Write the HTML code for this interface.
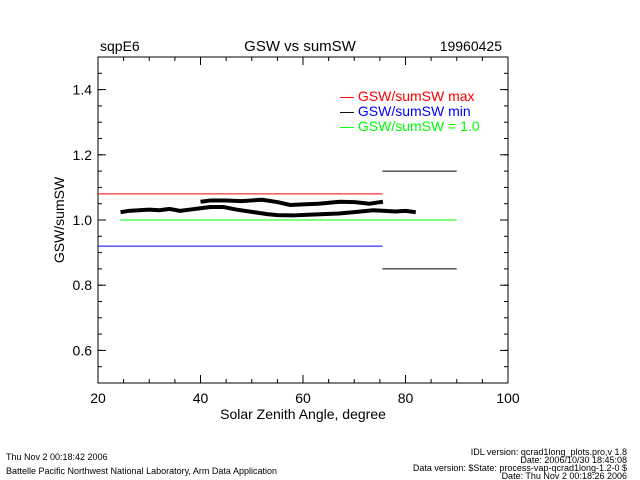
<!DOCTYPE html>
<html><head><meta charset="utf-8"><style>
body{margin:0;background:#fff;}
svg{display:block;font-family:"Liberation Sans",sans-serif;}
</style></head><body>
<svg id="chart" width="640" height="480" viewBox="0 0 640 480">
<rect width="640" height="480" fill="#fff"/>
<text x="100" y="51" font-size="14">sqpE6</text>
<text x="300" y="51" font-size="15" text-anchor="middle">GSW vs sumSW</text>
<text x="502" y="51" font-size="14" text-anchor="end">19960425</text>
<g id="axes"></g>
<g id="refs"></g>
<g id="series"></g>
<text x="340" y="101" font-size="14" fill="#f00">— GSW/sumSW max</text>
<text x="340" y="116" font-size="14" fill="#00f"><tspan fill="#000">— </tspan>GSW/sumSW min</text>
<text x="340" y="131" font-size="14" fill="#0f0">— GSW/sumSW = 1.0</text>
<text x="303" y="419" font-size="14" text-anchor="middle">Solar Zenith Angle, degree</text>
<text transform="translate(64,220) rotate(-90)" font-size="14" text-anchor="middle">GSW/sumSW</text>
<text x="6" y="460" font-size="9">Thu Nov  2 00:18:42 2006</text>
<text x="6" y="474" font-size="9">Battelle Pacific Northwest National Laboratory, Arm Data Application</text>
<g font-size="9" text-anchor="end">
<text x="627" y="455">IDL version: qcrad1long_plots.pro,v 1.8</text>
<text x="627" y="463">Date: 2006/10/30 18:45:08</text>
<text x="627" y="471">Data version: $State: process-vap-qcrad1long-1.2-0 $</text>
<text x="627" y="479">Date: Thu Nov  2 00:18:26 2006</text>
</g>
</svg>
<script>
const xTicks=[20,40,60,80,100];
const yTicks=[0.6,0.8,1.0,1.2,1.4];
const refMax=1.08, refMin=0.92, refOne=1.0, upperBox=1.15, lowerBox=0.85;
const lowerX=[24.4,26,28,30,32,34,36,38,40,42,44.4,47,50,53,55,58,61,64,67,70,73.7,76,78,80,82];
const lowerY=[1.024,1.028,1.03,1.032,1.03,1.034,1.028,1.032,1.036,1.04,1.04,1.032,1.025,1.018,1.015,1.014,1.016,1.018,1.02,1.024,1.03,1.028,1.026,1.028,1.024];
const upperX=[40,42,45,48,50,52,55,57.5,60,63,67.2,70,73,75.6];
const upperY=[1.056,1.06,1.06,1.058,1.06,1.062,1.055,1.046,1.048,1.05,1.056,1.055,1.05,1.056];
const X0=98,X1=508,Y0=383,Y1=57;
const sx=v=>X0+(v-20)/80*(X1-X0);
const sy=v=>Y0-(v-0.5)/1.0*(Y0-Y1);
const NS="http://www.w3.org/2000/svg";
function mk(t,a,p){const e=document.createElementNS(NS,t);for(const k in a)e.setAttribute(k,a[k]);p.appendChild(e);return e;}
const ax=document.getElementById('axes');
const frame=mk('rect',{x:X0,y:Y1,width:X1-X0,height:Y0-Y1,fill:'none',stroke:'#000','stroke-width':1},ax);


xTicks.forEach(v=>{
 const t=mk('text',{x:sx(v),y:Y0+20,'font-size':14,'text-anchor':'middle'},ax);t.textContent=v;
 
 
 mk('line',{x1:sx(v),x2:sx(v),y1:Y0,y2:Y0-8,stroke:'#000'},ax);
 mk('line',{x1:sx(v),x2:sx(v),y1:Y1,y2:Y1+8,stroke:'#000'},ax);
});
for(let v=20;v<=100;v+=5){mk('line',{x1:sx(v),x2:sx(v),y1:Y0,y2:Y0-4,stroke:'#000'},ax);mk('line',{x1:sx(v),x2:sx(v),y1:Y1,y2:Y1+4,stroke:'#000'},ax);}
yTicks.forEach(v=>{
 const t=mk('text',{x:X0-6,y:sy(v)+5,'font-size':14,'text-anchor':'end'},ax);t.textContent=v.toFixed(1);
 
 
 mk('line',{x1:X0,x2:X0+8,y1:sy(v),y2:sy(v),stroke:'#000'},ax);
 mk('line',{x1:X1,x2:X1-8,y1:sy(v),y2:sy(v),stroke:'#000'},ax);
});
for(let v=0.5;v<=1.5;v+=0.05){mk('line',{x1:X0,x2:X0+4,y1:sy(v),y2:sy(v),stroke:'#000'},ax);mk('line',{x1:X1,x2:X1-4,y1:sy(v),y2:sy(v),stroke:'#000'},ax);}
const rf=document.getElementById('refs');
function ref(name,x1,x2,y,c){const l=mk('line',{x1:sx(x1),x2:sx(x2),y1:sy(y),y2:sy(y),stroke:c,'stroke-width':1},rf);
 
 }
ref('max-line',20,75.5,refMax,'#f00');
ref('min-line',20,75.5,refMin,'#00f');
ref('one-line',24.3,90,refOne,'#0f0');
ref('upper-box-line',75.5,90,upperBox,'#000');
ref('lower-box-line',75.5,90,lowerBox,'#000');
const sr=document.getElementById('series');
function series(name,xs,ys){const p=mk('polyline',{points:xs.map((x,i)=>sx(x)+','+sy(ys[i])).join(' '),fill:'none',stroke:'#000','stroke-width':4,'stroke-linejoin':'round'},sr);
 
 }
series('ratio-series-lower',lowerX,lowerY);
series('ratio-series-upper',upperX,upperY);
</script>
</body></html>
